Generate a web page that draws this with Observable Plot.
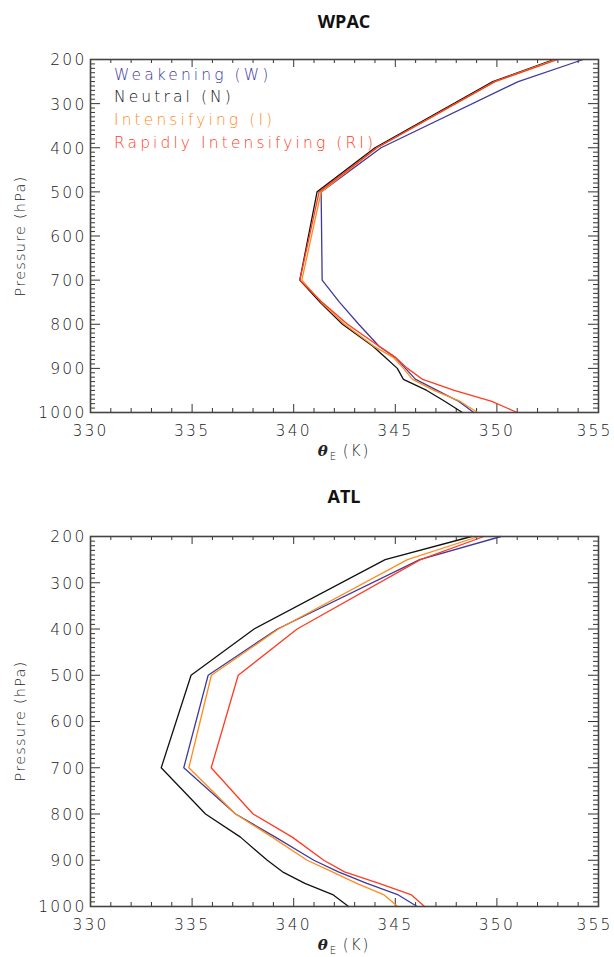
<!DOCTYPE html>
<html><head><meta charset="utf-8">
<script src="https://cdn.jsdelivr.net/npm/d3@7"></script>
<script src="https://cdn.jsdelivr.net/npm/@observablehq/plot@0.6"></script>
<style>
body{margin:0;background:#fff;width:614px;height:957px;overflow:hidden}
.panel{position:relative;width:614px}
.panel svg{display:block}
.panel svg text{letter-spacing:2.2px}
.title{position:absolute;left:0;width:688px;text-align:center;font:bold 18px "Open Sans",sans-serif;color:#111}
.legend{position:absolute;left:114px;font:300 15.5px "DejaVu Sans",sans-serif;letter-spacing:3.1px;line-height:22.7px;white-space:nowrap}
.ylab{position:absolute;left:20px;transform:translate(-50%,-50%) rotate(-90deg);font:300 14.5px "DejaVu Sans",sans-serif;letter-spacing:1.2px;white-space:nowrap;color:#222}
.xlab{position:absolute;left:344px;transform:translate(-50%,-50%);font:300 15px "DejaVu Sans",sans-serif;letter-spacing:2px;white-space:nowrap;color:#222}
.xlab i{font-weight:bold;font-family:"DejaVu Serif",serif}
.xlab sub{font-size:10px;letter-spacing:0}
</style>
</head><body>
<div id="top" class="panel"></div>
<div id="bot" class="panel"></div>
<script>
// ---- data ----
const seriesNames = ["Weakening (W)", "Neutral (N)", "Intensifying (I)", "Rapidly Intensifying (RI)"];
const seriesColors = ["#3d3a9e", "#111111", "#ff8c1a", "#ff3b22"];

const wpacLevels = [200, 250, 400, 500, 700, 750, 800, 850, 875, 900, 925, 950, 975, 1000];
const wpacW  = [354.25, 351.05, 344.3, 341.35, 341.4, 342.25, 343.2, 344.2, 345.0, 345.5, 346.0, 347.06, 348.13, 348.86];
const wpacN  = [352.8, 349.8, 344.0, 341.15, 340.3, 341.3, 342.4, 343.9, 344.5, 345.1, 345.4, 346.55, 347.45, 348.3];
const wpacI  = [352.9, 349.9, 344.1, 341.35, 340.4, 341.35, 342.5, 343.95, 344.9, 345.4, 345.85, 346.9, 348.2, 349.05];
const wpacRI = [353.0, 349.9, 344.1, 341.25, 340.3, 341.4, 342.65, 344.2, 345.0, 345.6, 346.35, 347.9, 349.75, 351.0];

const atlLevels = [200, 250, 400, 500, 700, 800, 850, 900, 925, 950, 975, 1000];
const atlW  = [350.2, 346.2, 339.2, 335.79, 334.59, 337.14, 339.1, 340.99, 342.2, 343.6, 345.15, 346.07];
const atlN  = [348.75, 344.5, 338.05, 334.95, 333.48, 335.66, 337.38, 338.7, 339.45, 340.55, 341.95, 342.7];
const atlI  = [349.1, 345.6, 339.25, 335.95, 334.84, 337.14, 338.94, 340.66, 341.9, 343.1, 344.45, 345.12];
const atlRI = [349.36, 346.24, 340.17, 337.27, 335.94, 338.0, 339.93, 341.48, 342.5, 344.2, 345.8, 346.44];

const xMajor = [330, 335, 340, 345, 350, 355];
const yMajor = [200, 300, 400, 500, 600, 700, 800, 900, 1000];
const xMinor = d3.range(330, 356, 1).filter(v => v % 5 !== 0);
const yMinor = d3.range(200, 1001, 10).filter(v => v % 100 !== 0);

function panel(el, {title, titleTop, levels, series, mt, fh, mb, legend}) {
  const fw = 508;
  const data = series.flatMap((vals, k) => vals.map((v, i) => ({name: seriesNames[k], theta: v, p: levels[i]})));
  const tick = "#333";
  const plot = Plot.plot({
    width: 614, height: mt + fh + mb,
    marginLeft: 90, marginRight: 16, marginTop: mt, marginBottom: mb,
    style: {fontFamily: "DejaVu Sans", fontSize: "15.5px", fontWeight: 300, color: "#222", background: "#fff"},
    x: {domain: [330, 355]},
    y: {domain: [200, 1000], reverse: true},
    color: {domain: seriesNames, range: seriesColors},
    marks: [
      Plot.tickX(xMinor, {x: d => d, insetTop: fh - 4, stroke: tick}),
      Plot.tickX(xMinor, {x: d => d, insetBottom: fh - 4, stroke: tick}),
      Plot.tickX(xMajor, {x: d => d, insetTop: fh - 8, stroke: tick}),
      Plot.tickX(xMajor, {x: d => d, insetBottom: fh - 8, stroke: tick}),
      Plot.tickY(yMinor, {y: d => d, insetRight: fw - 5, stroke: tick}),
      Plot.tickY(yMinor, {y: d => d, insetLeft: fw - 5, stroke: tick}),
      Plot.tickY(yMajor, {y: d => d, insetRight: fw - 10, stroke: tick}),
      Plot.tickY(yMajor, {y: d => d, insetLeft: fw - 10, stroke: tick}),
      Plot.axisX({ticks: xMajor.slice(0, -1), tickSize: 0, tickPadding: 12, label: null, anchor: "bottom", tickFormat: d => String(d)}),
      Plot.axisX({ticks: xMajor.slice(-1), tickSize: 0, tickPadding: 12, label: null, anchor: "bottom", tickFormat: d => String(d), dx: -4}),
      Plot.axisY({ticks: yMajor, tickSize: 0, tickPadding: 4, label: null, anchor: "left", dy: 1, tickFormat: d => String(d)}),
      Plot.line(data, {x: "theta", y: "p", z: "name", stroke: "name", strokeWidth: 1.3}),
      Plot.frame({stroke: "#444", strokeWidth: 1.6})
    ]
  });
  el.appendChild(plot);
  el.style.height = (mt + fh + mb) + "px";
  const t = document.createElement("div");
  t.className = "title"; t.textContent = title; t.style.top = titleTop + "px";
  el.appendChild(t);
  const yl = document.createElement("div");
  yl.className = "ylab"; yl.textContent = "Pressure (hPa)"; yl.style.top = (mt + fh / 2) + "px";
  el.appendChild(yl);
  const xl = document.createElement("div");
  xl.className = "xlab"; xl.innerHTML = "<i>θ</i><sub>E</sub> (K)"; xl.style.top = (mt + fh + 40) + "px";
  el.appendChild(xl);
  if (legend) {
    const lg = document.createElement("div");
    lg.className = "legend"; lg.style.top = (mt + 4.5) + "px";
    seriesNames.forEach((n, i) => {
      const d = document.createElement("div");
      d.textContent = n; d.style.color = seriesColors[i];
      lg.appendChild(d);
    });
    el.appendChild(lg);
  }
}

panel(document.getElementById("top"), {title: "WPAC", titleTop: 9, levels: wpacLevels,
  series: [wpacW, wpacN, wpacI, wpacRI], mt: 59, fh: 353, mb: 58, legend: true});
panel(document.getElementById("bot"), {title: "ATL", titleTop: 14, levels: atlLevels,
  series: [atlW, atlN, atlI, atlRI], mt: 66, fh: 370, mb: 51, legend: false});
</script>
</body></html>
